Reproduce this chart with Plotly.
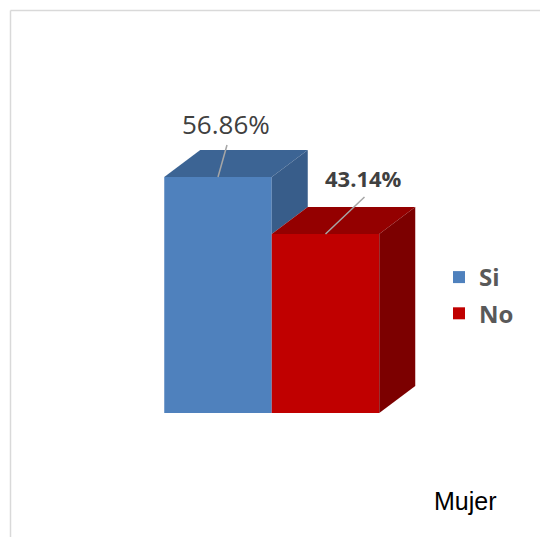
import plotly.graph_objects as go

# ---- data ----
categories = ["Si", "No"]
values = [56.86, 43.14]
value_labels = ["56.86%", "43.14%"]
group_label = "Mujer"

# ---- styles ----
front_colors = ["#4F81BD", "#C00000"]
top_colors = ["#3C6494", "#940000"]
side_colors = ["#385D8A", "#7C0000"]
label_fonts = [dict(family="Open Sans", size=26, color="#404040"),
               dict(family="Open Sans", size=22, color="#404040", weight="bold")]
PX_X = 107.5   # pixels per x unit
PX_Y = 4.15    # pixels per percent
DX = 36 / PX_X
DY = 27 / PX_Y
lead_off = [(9 / PX_X, 32 / PX_Y), (39 / PX_X, 37 / PX_Y)]
label_shift = [(8, 53), (38, 56)]

OFF = 8  # page body margin
W, H = 548 - OFF, 537 - OFF
ZERO_Y = 413 - OFF
BAR0_X = 218 - OFF

fig = go.Figure()

xs = list(range(len(values)))
for i, (cat, v) in enumerate(zip(categories, values)):
    fig.add_trace(go.Bar(x=[xs[i]], y=[v], name=cat, width=1.0,
                         marker=dict(color=front_colors[i], line=dict(width=0)),
                         legendgroup=cat, showlegend=True, hoverinfo="skip"))

for i, v in enumerate(values):
    x0, x1 = xs[i] - 0.5, xs[i] + 0.5
    fig.add_trace(go.Scatter(
        x=[x0, x1, x1 + DX, x0 + DX, x0], y=[v, v, v + DY, v + DY, v],
        fill="toself", fillcolor=top_colors[i], mode="lines",
        line=dict(width=0, color=top_colors[i]), showlegend=False, hoverinfo="skip"))
    base = values[i + 1] if i + 1 < len(values) and values[i + 1] < v else 0
    fig.add_trace(go.Scatter(
        x=[x1, x1, x1 + DX, x1 + DX, x1], y=[base, v, v + DY, base + DY, base],
        fill="toself", fillcolor=side_colors[i], mode="lines",
        line=dict(width=0, color=side_colors[i]), showlegend=False, hoverinfo="skip"))

for i, v in enumerate(values):
    ox, oy = lead_off[i]
    fig.add_trace(go.Scatter(x=[xs[i], xs[i] + ox], y=[v, v + oy], mode="lines",
                             line=dict(color="#A6A6A6", width=1.5),
                             showlegend=False, hoverinfo="skip"))
    fig.add_annotation(x=xs[i], y=v, xref="x", yref="y", text=value_labels[i],
                       showarrow=False, xshift=label_shift[i][0], yshift=label_shift[i][1],
                       font=label_fonts[i], xanchor="center", yanchor="middle")

fig.add_annotation(x=(465 - OFF) / W, y=1 - (501 - OFF) / H, xref="paper", yref="paper",
                   text=group_label, showarrow=False,
                   font=dict(family="Liberation Sans", size=25, color="#000000"),
                   xanchor="center", yanchor="middle")

# chart frame
fx, fy = (10.5 - OFF) / W, 1 - (10.5 - OFF) / H
fig.add_shape(type="line", xref="paper", yref="paper", x0=fx, x1=1, y0=fy, y1=fy,
              line=dict(color="#D9D9D9", width=1.5))
fig.add_shape(type="line", xref="paper", yref="paper", x0=fx, x1=fx, y0=0, y1=fy,
              line=dict(color="#D9D9D9", width=1.5))

fig.update_layout(
    width=W, height=H, autosize=False,
    margin=dict(l=0, r=0, t=0, b=0, pad=0),
    paper_bgcolor="white", plot_bgcolor="white",
    barmode="overlay",
    xaxis=dict(range=[-BAR0_X / PX_X, (W - BAR0_X) / PX_X], visible=False, fixedrange=True),
    yaxis=dict(range=[-(H - ZERO_Y) / PX_Y, ZERO_Y / PX_Y], visible=False, fixedrange=True),
    legend=dict(x=(439 - OFF) / W, y=1 - (255 - OFF) / H, xanchor="left", yanchor="top",
                font=dict(family="Open Sans", size=24, color="#595959", weight="bold"),
                tracegroupgap=2, bgcolor="rgba(0,0,0,0)", traceorder="grouped"),
    showlegend=True,
)

fig.write_html("out.html")
